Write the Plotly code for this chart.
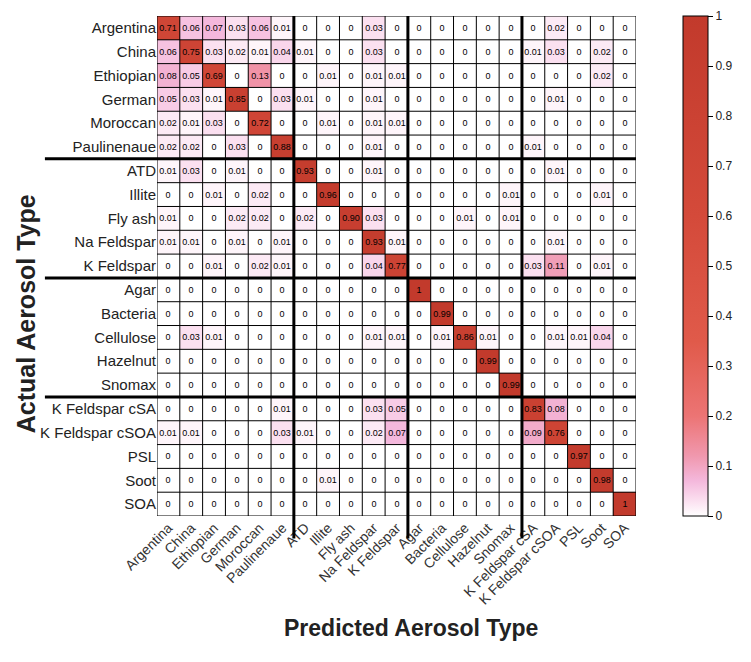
import plotly.graph_objects as go

labels = ["Argentina", "China", "Ethiopian", "German", "Moroccan", "Paulinenaue",
          "ATD", "Illite", "Fly ash", "Na Feldspar", "K Feldspar",
          "Agar", "Bacteria", "Cellulose", "Hazelnut", "Snomax",
          "K Feldspar cSA", "K Feldspar cSOA", "PSL", "Soot", "SOA"]

row_argentina   = [0.71,0.06,0.07,0.03,0.06,0.01, 0,0,0,0.03,0, 0,0,0,0,0, 0,0.02,0,0,0]
row_china       = [0.06,0.75,0.03,0.02,0.01,0.04, 0.01,0,0,0.03,0, 0,0,0,0,0, 0.01,0.03,0,0.02,0]
row_ethiopian   = [0.08,0.05,0.69,0,0.13,0, 0,0.01,0,0.01,0.01, 0,0,0,0,0, 0,0,0,0.02,0]
row_german      = [0.05,0.03,0.01,0.85,0,0.03, 0.01,0,0,0.01,0, 0,0,0,0,0, 0,0.01,0,0,0]
row_moroccan    = [0.02,0.01,0.03,0,0.72,0, 0,0.01,0,0.01,0.01, 0,0,0,0,0, 0,0,0,0,0]
row_paulinenaue = [0.02,0.02,0,0.03,0,0.88, 0,0,0,0.01,0, 0,0,0,0,0, 0.01,0,0,0,0]
row_atd         = [0.01,0.03,0,0.01,0,0, 0.93,0,0,0.01,0, 0,0,0,0,0, 0,0.01,0,0,0]
row_illite      = [0,0,0.01,0,0.02,0, 0,0.96,0,0,0, 0,0,0,0,0.01, 0,0,0,0.01,0]
row_flyash      = [0.01,0,0,0.02,0.02,0, 0.02,0,0.90,0.03,0, 0,0,0.01,0,0.01, 0,0,0,0,0]
row_nafeldspar  = [0.01,0.01,0,0.01,0,0.01, 0,0,0,0.93,0.01, 0,0,0,0,0, 0,0.01,0,0,0]
row_kfeldspar   = [0,0,0.01,0,0.02,0.01, 0,0,0,0.04,0.77, 0,0,0,0,0, 0.03,0.11,0,0.01,0]
row_agar        = [0,0,0,0,0,0, 0,0,0,0,0, 1,0,0,0,0, 0,0,0,0,0]
row_bacteria    = [0,0,0,0,0,0, 0,0,0,0,0, 0,0.99,0,0,0, 0,0,0,0,0]
row_cellulose   = [0,0.03,0.01,0,0,0, 0,0,0,0.01,0.01, 0,0.01,0.86,0.01,0, 0,0.01,0.01,0.04,0]
row_hazelnut    = [0,0,0,0,0,0, 0,0,0,0,0, 0,0,0,0.99,0, 0,0,0,0,0]
row_snomax      = [0,0,0,0,0,0, 0,0,0,0,0, 0,0,0,0,0.99, 0,0,0,0,0]
row_kcsa        = [0,0,0,0,0,0.01, 0,0,0,0.03,0.05, 0,0,0,0,0, 0.83,0.08,0,0,0]
row_kcsoa       = [0.01,0.01,0,0,0,0.03, 0.01,0,0,0.02,0.07, 0,0,0,0,0, 0.09,0.76,0,0,0]
row_psl         = [0,0,0,0,0,0, 0,0,0,0,0, 0,0,0,0,0, 0,0,0.97,0,0]
row_soot        = [0,0,0,0,0,0, 0,0.01,0,0,0, 0,0,0,0,0, 0,0,0,0.98,0]
row_soa         = [0,0,0,0,0,0, 0,0,0,0,0, 0,0,0,0,0, 0,0,0,0,1]

matrix = [row_argentina, row_china, row_ethiopian, row_german, row_moroccan, row_paulinenaue,
          row_atd, row_illite, row_flyash, row_nafeldspar, row_kfeldspar,
          row_agar, row_bacteria, row_cellulose, row_hazelnut, row_snomax,
          row_kcsa, row_kcsoa, row_psl, row_soot, row_soa]

group_sizes = [6, 5, 5, 5]

colorbar_ticks = [0, 0.1, 0.2, 0.3, 0.4, 0.5, 0.6, 0.7, 0.8, 0.9, 1]
colorbar_labels = ["0", "0.1", "0.2", "0.3", "0.4", "0.5", "0.6", "0.7", "0.8", "0.9", "1"]

def fmt(v):
    if v == 0:
        return "0"
    if v == 1:
        return "1"
    return f"{v:.2f}"

text = [[fmt(v) for v in row] for row in matrix]
n = len(labels)
idx = list(range(n))

colorscale = [[0.0, "#ffffff"], [0.03, "#fbe0f0"], [0.07, "#f4b8dc"], [0.12, "#f098ae"],
              [0.2, "#ec7474"], [0.35, "#e05a4a"], [0.6, "#d44a3a"], [1.0, "#c23a2c"]]

FONT = "Liberation Sans, Arial, Helvetica"

fig = go.Figure(go.Heatmap(
    z=matrix, x=idx, y=idx, text=text, texttemplate="%{text}",
    textfont=dict(size=9, color="black", family=FONT),
    colorscale=colorscale, zmin=0, zmax=1,
    colorbar=dict(x=1.098, xanchor="left", xpad=0, y=0.5, len=1.0, lenmode="fraction",
                  ypad=0, thickness=25, outlinecolor="black", outlinewidth=1,
                  tickvals=colorbar_ticks, ticktext=colorbar_labels,
                  ticklabeloverflow="allow",
                  ticks="outside", ticklen=5, tickcolor="black",
                  tickfont=dict(size=12, color="#222", family=FONT)),
    hoverinfo="skip"))

shapes = []
for k in range(n + 1):
    b = k - 0.5
    shapes.append(dict(type="line", xref="x", yref="y", x0=b, x1=b, y0=-0.5, y1=n - 0.5,
                       line=dict(color="black", width=1)))
    shapes.append(dict(type="line", xref="x", yref="y", x0=-0.5, x1=n - 0.5, y0=b, y1=b,
                       line=dict(color="black", width=1)))
acc = 0
for g in group_sizes[:-1]:
    acc += g
    b = acc - 0.5
    shapes.append(dict(type="line", xref="paper", yref="y", x0=-0.234, x1=1.0, y0=b, y1=b,
                       line=dict(color="black", width=3)))
    shapes.append(dict(type="line", xref="x", yref="paper", x0=b, x1=b, y0=-0.045, y1=1.0,
                       line=dict(color="black", width=3)))

annotations = [
    dict(text="<b>Actual Aerosol Type</b>", xref="paper", yref="paper", x=-0.274, y=0.405,
         textangle=-90, showarrow=False, xanchor="center", yanchor="middle",
         font=dict(size=25, color="#222", family=FONT)),
    dict(text="<b>Predicted Aerosol Type</b>", xref="paper", yref="paper", x=0.53, y=-0.224,
         showarrow=False, xanchor="center", yanchor="middle",
         font=dict(size=23, color="#222", family=FONT)),
]

fig.update_layout(
    width=751, height=662,
    margin=dict(l=149, r=123, t=8, b=154),
    paper_bgcolor="white", plot_bgcolor="white",
    shapes=shapes, annotations=annotations,
    font=dict(family=FONT, color="#222"),
    xaxis=dict(tickmode="array", tickvals=idx, ticktext=labels, tickangle=-45,
               tickfont=dict(size=14, color="#333"), showgrid=False, zeroline=False,
               range=[-0.5, n - 0.5], ticks=""),
    yaxis=dict(tickmode="array", tickvals=idx, ticktext=labels, autorange=False,
               range=[n - 0.5, -0.5], tickfont=dict(size=15, color="#222"),
               showgrid=False, zeroline=False, ticks=""),
)

fig.write_html("out.html")
